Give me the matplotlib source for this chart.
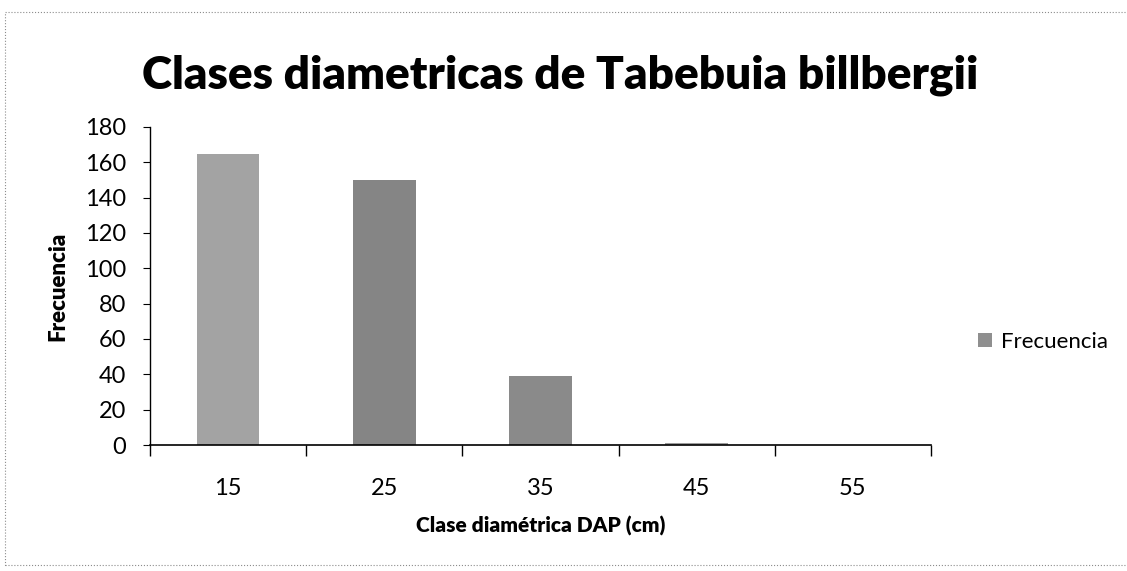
import numpy as np
import matplotlib.pyplot as plt
from matplotlib.patches import Rectangle, Patch

# datos
clases = ['15', '25', '35', '45', '55']
frecuencia = [165, 150, 39, 1, 0]
colores = ['#a3a3a3', '#858585', '#8a8a8a', '#9c9c9c', '#9c9c9c']

plt.rcParams['font.family'] = ['Lato', 'DejaVu Sans']

fig = plt.figure(figsize=(11.27, 5.71), dpi=100)
ax = fig.add_axes([150/1127, 1-445/571, (931-150)/1127, (445-127)/571])

x = np.arange(len(clases))
ax.bar(x, frecuencia, width=0.4, color=colores, edgecolor='none')

ax.set_xlim(-0.5, len(clases)-0.5)
ax.set_ylim(0, 180)
ax.set_yticks(range(0, 181, 20))
ax.tick_params(axis='y', direction='out', length=5, width=0.8, labelsize=17, pad=12)

# marcas en los limites de clase, etiquetas al centro
ax.set_xticks(np.arange(-0.5, len(clases), 1.0))
ax.set_xticklabels([])
ax.tick_params(axis='x', which='major', direction='out', length=8, width=1)
ax.set_xticks(x, minor=True)
ax.set_xticklabels(clases, minor=True)
ax.tick_params(axis='x', which='minor', length=0, labelsize=17, pad=24)

for s in ['top', 'right']:
    ax.spines[s].set_visible(False)
ax.spines['left'].set_linewidth(1)
ax.spines['bottom'].set_linewidth(1.2)

ax.set_xlabel('Clase diamétrica DAP (cm)', fontsize=15, fontweight='heavy', labelpad=12)
ax.set_ylabel('Frecuencia', fontsize=16, fontweight='heavy', labelpad=12)

fig.text(0.497, 1-75/571, 'Clases diametricas de Tabebuia billbergii',
         fontsize=33, fontweight='heavy', ha='center', va='center')

ax.legend(handles=[Patch(facecolor='#8f8f8f', label='Frecuencia')],
          loc='center left', bbox_to_anchor=(1.035, 0.325), frameon=False,
          fontsize=16, handlelength=0.6, handleheight=0.6, handletextpad=0.4)

# marco del escaneo
fig.patches.append(Rectangle((5/1127, 1-565/571), 1.2, (565-12)/571,
                             transform=fig.transFigure, fill=False,
                             edgecolor='#8c8c8c', linewidth=0.8, linestyle=':'))

fig.savefig('out.png', dpi=100)
